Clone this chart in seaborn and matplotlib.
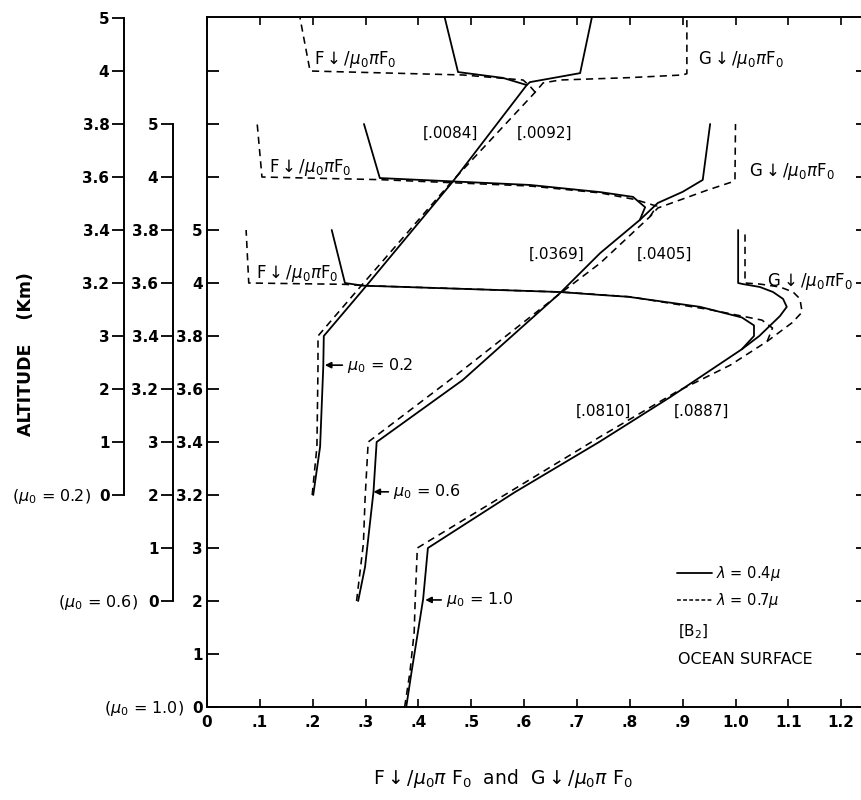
import numpy as np
import matplotlib
matplotlib.use("Agg")
import matplotlib.pyplot as plt
import seaborn as sns
from matplotlib.lines import Line2D

# ---------------------------------------------------------------
# Data: altitude (km) and flux value
# Each profile = shared lower path (surface -> inside cloud) + F and G branches
# ---------------------------------------------------------------
# mu0 = 1.0, lambda = 0.4 (solid)
m10_w04_alt = [0, 0.66, 1.41, 2.04, 3.0, 3.21, 3.40, 3.57, 3.75]
m10_w04_val = [0.377, 0.387, 0.399, 0.409, 0.418, 0.582, 0.742, 0.877, 1.012]
m10_w04_G_alt = [3.80, 3.875, 3.91, 3.94, 3.966, 3.985, 3.996, 4.0, 5.0]
m10_w04_G_val = [1.045, 1.084, 1.097, 1.090, 1.071, 1.046, 1.014, 1.005, 1.005]
m10_w04_F_alt = [3.80, 3.84, 3.87, 3.91, 3.948, 3.955, 3.966, 3.99, 4.0, 5.0]
m10_w04_F_val = [1.035, 1.035, 1.012, 0.933, 0.797, 0.744, 0.668, 0.295, 0.261, 0.236]
# mu0 = 1.0, lambda = 0.7 (dashed)
m10_w07_alt = [0, 0.66, 1.41, 2.04, 3.0, 3.2, 3.42, 3.59, 3.69, 3.78]
m10_w07_val = [0.374, 0.384, 0.392, 0.394, 0.398, 0.563, 0.744, 0.889, 0.99, 1.06]
m10_w07_G_alt = [3.85, 3.89, 3.94, 3.966, 3.985, 3.996, 4.0, 5.0]
m10_w07_G_val = [1.107, 1.126, 1.122, 1.109, 1.084, 1.046, 1.018, 1.018]
m10_w07_F_alt = [3.83, 3.86, 3.90, 3.948, 3.966, 3.99, 3.995, 4.0, 5.0]
m10_w07_F_val = [1.07, 1.05, 0.95, 0.80, 0.67, 0.30, 0.26, 0.079, 0.074]

# mu0 = 0.6, lambda = 0.4
m06_w04_alt = [0, 0.64, 2.06, 3.0, 3.234, 3.562, 3.713, 3.838]
m06_w04_val = [0.286, 0.299, 0.315, 0.321, 0.484, 0.668, 0.744, 0.819]
m06_w04_G_alt = [3.902, 3.944, 3.989, 5.0]
m06_w04_G_val = [0.853, 0.90, 0.938, 0.952]
m06_w04_F_alt = [3.886, 3.925, 3.943, 3.97, 3.996, 5.0]
m06_w04_F_val = [0.829, 0.806, 0.744, 0.611, 0.327, 0.297]
# mu0 = 0.6, lambda = 0.7
m06_w07_alt = [0, 1.09, 1.91, 3.0, 3.25, 3.56, 3.675, 3.85]
m06_w07_val = [0.283, 0.296, 0.299, 0.305, 0.47, 0.668, 0.744, 0.838]
m06_w07_G_alt = [3.883, 3.95, 3.981, 3.99, 5.0]
m06_w07_G_val = [0.853, 0.946, 0.993, 0.999, 1.0]
m06_w07_F_alt = [3.89, 3.915, 3.94, 3.966, 3.99, 4.0, 5.0]
m06_w07_F_val = [0.851, 0.81, 0.744, 0.611, 0.327, 0.104, 0.095]

# mu0 = 0.2, lambda = 0.4
m02_w04_alt = [0, 0.91, 2.42, 3.0, 3.174, 3.58, 3.947]
m02_w04_val = [0.201, 0.214, 0.220, 0.221, 0.295, 0.464, 0.605]
m02_w04_G_alt = [3.958, 3.992, 5.0]
m02_w04_G_val = [0.611, 0.706, 0.728]
m02_w04_F_alt = [3.974, 3.996, 5.0]
m02_w04_F_val = [0.56, 0.475, 0.450]
# mu0 = 0.2, lambda = 0.7
m02_w07_alt = [0, 0.91, 2.42, 3.0, 3.174, 3.58, 3.92]
m02_w07_val = [0.199, 0.208, 0.210, 0.210, 0.285, 0.462, 0.621]
m02_w07_G_alt = [3.955, 3.966, 3.975, 3.985, 3.99, 5.0]
m02_w07_G_val = [0.636, 0.668, 0.80, 0.90, 0.908, 0.908]
m02_w07_F_alt = [3.945, 3.966, 3.985, 4.0, 5.0]
m02_w07_F_val = [0.61, 0.598, 0.484, 0.195, 0.176]

alt_ticks = [0, 1, 2, 3, 3.2, 3.4, 3.6, 3.8, 4, 5]
alt_tick_labels = ["0", "1", "2", "3", "3.2", "3.4", "3.6", "3.8", "4", "5"]
x_ticks = [0, 0.1, 0.2, 0.3, 0.4, 0.5, 0.6, 0.7, 0.8, 0.9, 1.0, 1.1, 1.2]
x_tick_labels = ["0", ".1", ".2", ".3", ".4", ".5", ".6", ".7", ".8", ".9", "1.0", "1.1", "1.2"]

# ---------------------------------------------------------------
sns.set_style("white")
plt.rcParams["font.family"] = ["DejaVu Sans"]
plt.rcParams["mathtext.fontset"] = "dejavusans"
plt.rcParams["text.color"] = "black"
plt.rcParams["axes.labelcolor"] = "black"
plt.rcParams["xtick.color"] = "black"
plt.rcParams["ytick.color"] = "black"

W, H = 862, 800
fig = plt.figure(figsize=(W / 100, H / 100), dpi=100)


def fx(px):
    return px / W


def fy(py):
    return 1 - py / H


X0, X1 = 207, 868
Y0, Y1 = 707, 17
PX_PER_X = 528.5
UNIT = 53.0
xmax = (X1 - X0) / PX_PER_X
idx_top = (Y0 - Y1) / UNIT


def fwd(a):
    a = np.asarray(a, float)
    return np.where(a <= 3, a, np.where(a <= 4, 3 + (a - 3) * 5, a + 4))


def inv(i):
    i = np.asarray(i, float)
    return np.where(i <= 3, i, np.where(i <= 8, 3 + (i - 3) / 5, i - 4))


rect = [fx(X0), fy(Y0), (X1 - X0) / W, (Y0 - Y1) / H]
ax = fig.add_axes(rect)
ax06 = fig.add_axes(rect)
ax02 = fig.add_axes(rect)

SOLID = dict(color="k", linewidth=1.3, linestyle="-")
DASH = dict(color="k", linewidth=1.15, linestyle=(0, (4.5, 3.2)))

groups = [
    (ax, 0, [(m10_w04_alt, m10_w04_val, m10_w04_G_alt, m10_w04_G_val, m10_w04_F_alt, m10_w04_F_val, SOLID),
             (m10_w07_alt, m10_w07_val, m10_w07_G_alt, m10_w07_G_val, m10_w07_F_alt, m10_w07_F_val, DASH)]),
    (ax06, 2, [(m06_w04_alt, m06_w04_val, m06_w04_G_alt, m06_w04_G_val, m06_w04_F_alt, m06_w04_F_val, SOLID),
               (m06_w07_alt, m06_w07_val, m06_w07_G_alt, m06_w07_G_val, m06_w07_F_alt, m06_w07_F_val, DASH)]),
    (ax02, 4, [(m02_w04_alt, m02_w04_val, m02_w04_G_alt, m02_w04_G_val, m02_w04_F_alt, m02_w04_F_val, SOLID),
               (m02_w07_alt, m02_w07_val, m02_w07_G_alt, m02_w07_G_val, m02_w07_F_alt, m02_w07_F_val, DASH)]),
]

for a, off, curves in groups:
    a.set_yscale("function", functions=(fwd, inv))
    for s_alt, s_val, g_alt, g_val, f_alt, f_val, sty in curves:
        g_y = list(s_alt) + list(g_alt)
        g_x = list(s_val) + list(g_val)
        f_y = [s_alt[-1]] + list(f_alt)
        f_x = [s_val[-1]] + list(f_val)
        sns.lineplot(x=g_x, y=g_y, ax=a, sort=False, estimator=None, **sty)
        sns.lineplot(x=f_x, y=f_y, ax=a, sort=False, estimator=None, **sty)
    a.set_xlim(0, xmax)
    a.set_ylim(float(inv(-off)), float(inv(idx_top - off)))
    a.set_xlabel("")
    a.set_ylabel("")

# main axes styling
for s in ax.spines.values():
    s.set_linewidth(1.4)
    s.set_color("k")
ax.spines["right"].set_visible(False)
ax.set_xticks(x_ticks)
ax.set_xticklabels(x_tick_labels)
ax.set_yticks(alt_ticks + [6, 7, 8])
ax.set_yticklabels(alt_tick_labels + ["", "", ""])
ax.tick_params(axis="y", which="both", direction="in", left=True, right=True,
               length=8.5, width=1.3, pad=3, labelsize=11, colors="k")
ax.tick_params(axis="x", which="both", direction="in", bottom=True, top=True,
               length=6, width=1.2, pad=6, labelsize=11, colors="k")
for lab in ax.get_xticklabels() + ax.get_yticklabels():
    lab.set_fontweight("bold")

# offset altitude axes
for a, frac in [(ax06, -34 / (X1 - X0)), (ax02, -83 / (X1 - X0))]:
    a.patch.set_visible(False)
    for k in ["top", "bottom", "right"]:
        a.spines[k].set_visible(False)
    a.spines["left"].set_position(("axes", frac))
    a.spines["left"].set_bounds(0, 5)
    a.spines["left"].set_linewidth(1.4)
    a.spines["left"].set_color("k")
    a.xaxis.set_visible(False)
    a.set_yticks(alt_ticks)
    a.set_yticklabels(alt_tick_labels)
    a.tick_params(axis="y", direction="out", left=True, right=False, length=8.5,
                  width=1.3, pad=2, labelsize=11, colors="k")
    for lab in a.get_yticklabels():
        lab.set_fontweight("bold")

# mu0 tags for each altitude scale
fig.text(fx(91), fy(497), r"($\mu_0$ = 0.2)", ha="right", va="center", fontsize=11.5)
fig.text(fx(138), fy(602), r"($\mu_0$ = 0.6)", ha="right", va="center", fontsize=11.5)
fig.text(fx(184), fy(708), r"($\mu_0$ = 1.0)", ha="right", va="center", fontsize=11.5)

fig.text(fx(26), fy(354), "ALTITUDE    (Km)", rotation=90, ha="center", va="center",
         fontsize=12.5, fontweight="bold")
fig.text(fx(503), fy(778), r"F$\downarrow$/$\mu_0\pi$ F$_0$  and  G$\downarrow$/$\mu_0\pi$ F$_0$",
         ha="center", va="center", fontsize=13.5)

# curve labels
F_lab = r"F$\downarrow$/$\mu_0\pi$F$_0$"
G_lab = r"G$\downarrow$/$\mu_0\pi$F$_0$"
for (x, y, t) in [(355, 60, F_lab), (310, 167, F_lab), (297, 273, F_lab),
                  (741, 60, G_lab), (792, 172, G_lab), (810, 281, G_lab)]:
    fig.text(fx(x), fy(y), t, ha="center", va="center", fontsize=12)

for (x, y, t) in [(450, 133, "[.0084]"), (545, 133, "[.0092]"),
                  (557, 254, "[.0369]"), (664, 254, "[.0405]"),
                  (603, 411, "[.0810]"), (701, 411, "[.0887]")]:
    fig.text(fx(x), fy(y), t, ha="center", va="center", fontsize=11)

arrow = dict(arrowstyle="-|>", color="k", lw=1.2, mutation_scale=9, shrinkA=1, shrinkB=0)
ax02.annotate(r"$\mu_0$ = 0.2", xy=(0.223, 2.45), xytext=(0.265, 2.45), va="center",
              ha="left", fontsize=11.5, arrowprops=arrow)
ax06.annotate(r"$\mu_0$ = 0.6", xy=(0.315, 2.06), xytext=(0.352, 2.06), va="center",
              ha="left", fontsize=11.5, arrowprops=arrow)
ax.annotate(r"$\mu_0$ = 1.0", xy=(0.413, 2.02), xytext=(0.452, 2.02), va="center",
            ha="left", fontsize=11.5, arrowprops=arrow)

handles = [Line2D([], [], **SOLID), Line2D([], [], color="k", linewidth=1.1, linestyle=(0, (2.5, 1.5)))]
ax.legend(handles, [r"$\lambda$ = 0.4$\mu$", r"$\lambda$ = 0.7$\mu$"], loc="upper left",
          bbox_to_anchor=(fx(677), fy(564)), bbox_transform=fig.transFigure, frameon=False,
          handlelength=2.4, handletextpad=0.3, fontsize=10.5, borderpad=0, borderaxespad=0,
          labelspacing=0.55)
fig.text(fx(678), fy(632), r"[B$_2$]", ha="left", va="center", fontsize=11)
fig.text(fx(678), fy(660), "OCEAN SURFACE", ha="left", va="center", fontsize=11.5)

fig.savefig("out.png", dpi=100)
